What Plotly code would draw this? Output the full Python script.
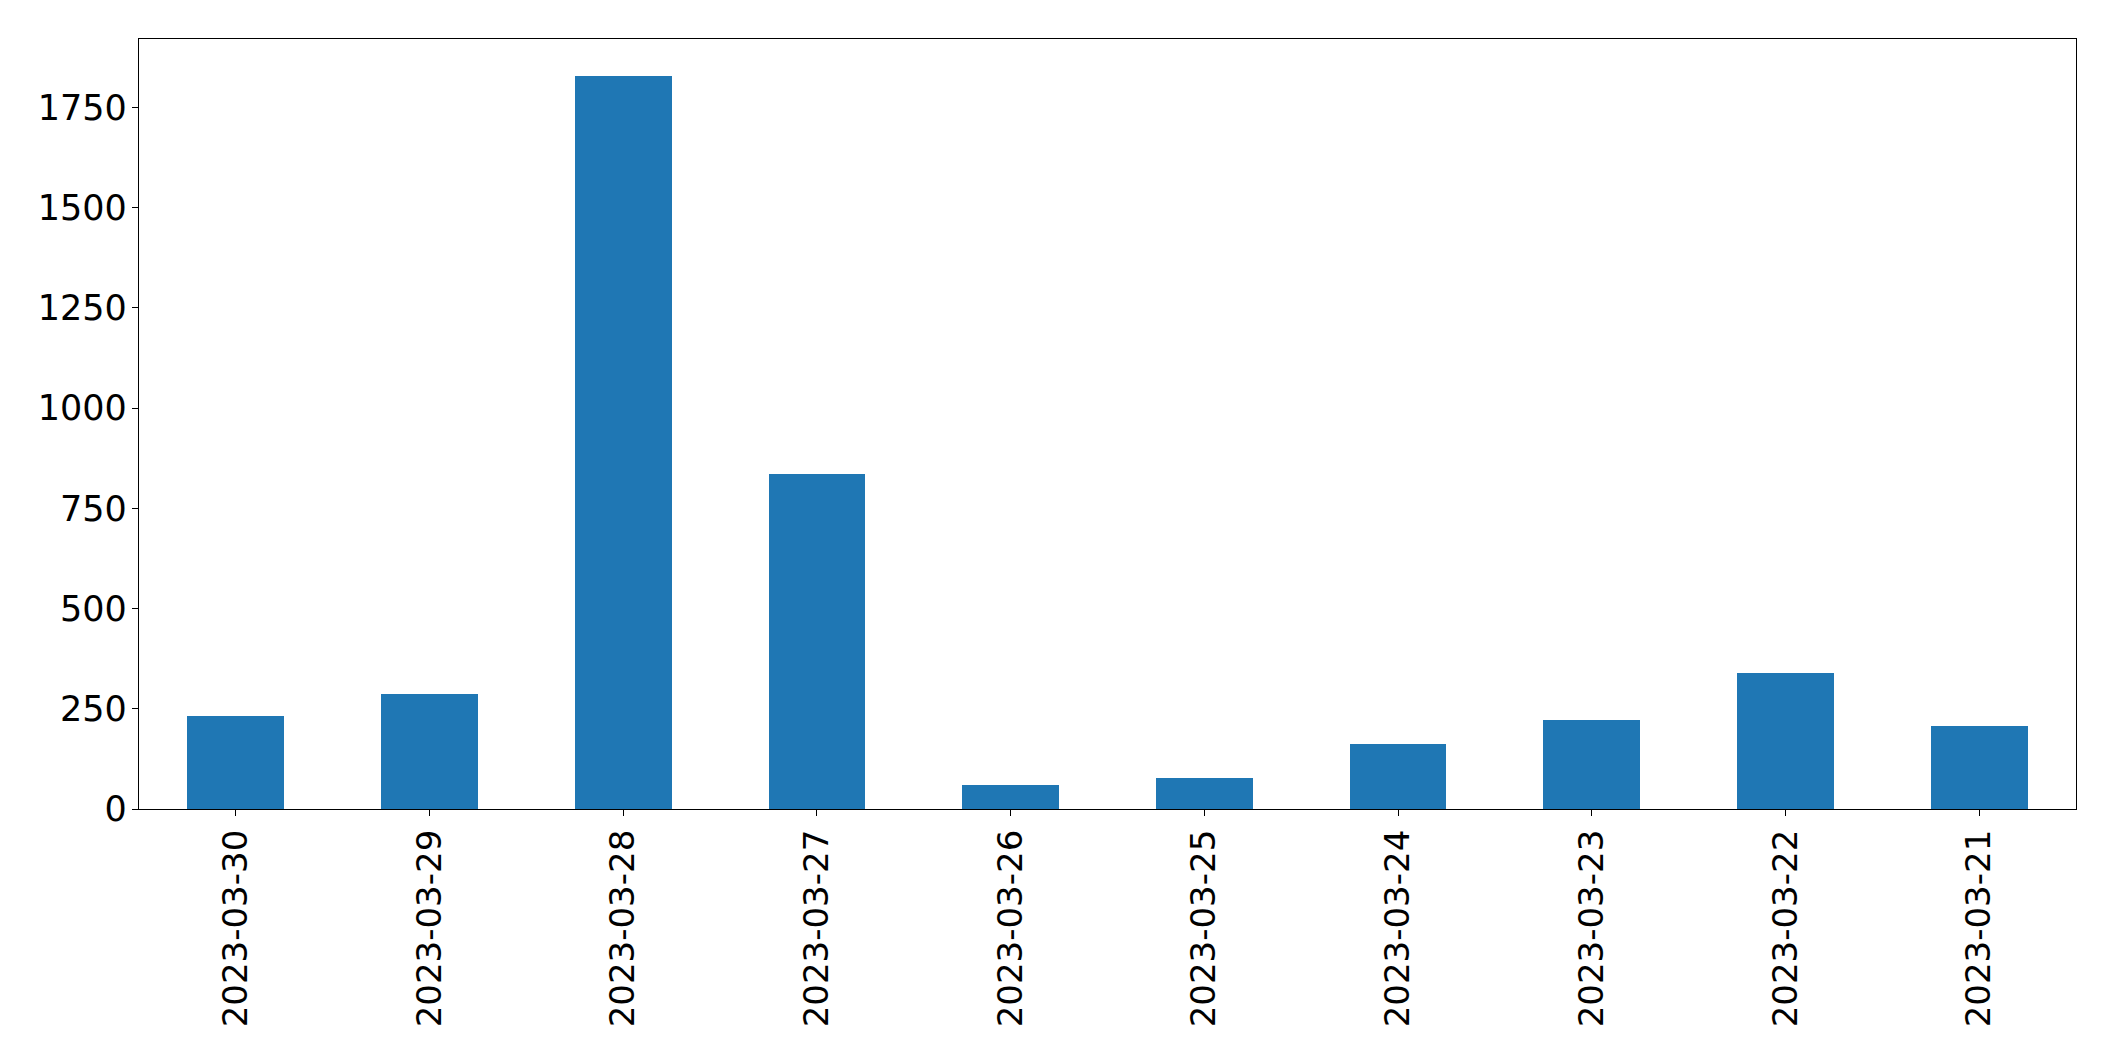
import plotly.graph_objects as go

dates = ["2023-03-30", "2023-03-29", "2023-03-28", "2023-03-27", "2023-03-26",
         "2023-03-25", "2023-03-24", "2023-03-23", "2023-03-22", "2023-03-21"]
counts = [232, 287, 1829, 836, 60, 77, 162, 222, 339, 207]
y_ticks = [0, 250, 500, 750, 1000, 1250, 1500, 1750]

fig = go.Figure(
    go.Bar(x=dates, y=counts, width=0.5, marker=dict(color="#1f77b4", line=dict(width=0)))
)

yfont = dict(family="DejaVu Sans", size=35, color="black")
xfont = dict(family="DejaVu Sans", size=34, color="black")
fig.update_layout(
    width=2107, height=1053,
    margin=dict(l=131, r=39, t=31, b=252),
    plot_bgcolor="white", paper_bgcolor="white",
    showlegend=False, bargap=0,
    font=yfont,
)
fig.update_xaxes(
    type="category", range=[-0.5, 9.5],
    showline=True, linecolor="black", linewidth=1.3, mirror=True,
    ticks="outside", ticklen=6, tickwidth=1.3, tickcolor="black",
    tickangle=-90, tickfont=xfont, showgrid=False, zeroline=False,
    ticklabelstandoff=0,
)
fig.update_yaxes(
    range=[0, 1921], tickvals=y_ticks, ticktext=[str(v) for v in y_ticks],
    showline=True, linecolor="black", linewidth=1.3, mirror=True,
    ticks="outside", ticklen=6, tickwidth=1.3, tickcolor="black",
    tickfont=yfont, showgrid=False, zeroline=False, ticklabelstandoff=-2,
)
fig.write_html("out.html")
